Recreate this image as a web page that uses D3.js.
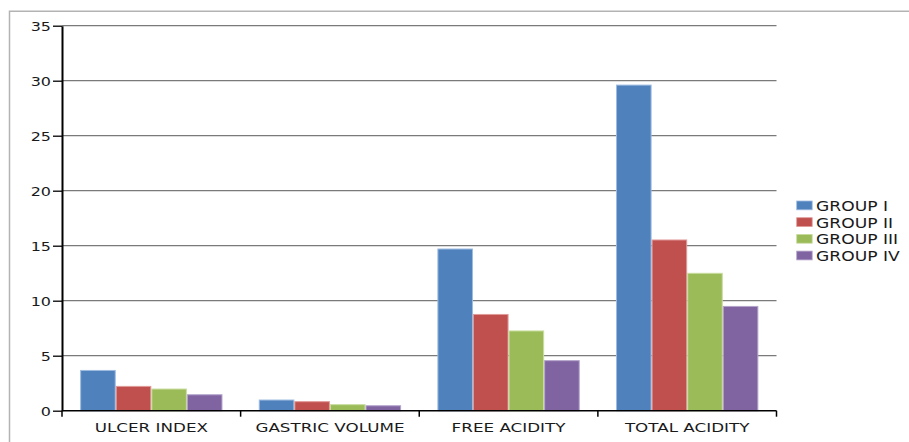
<!DOCTYPE html>
<html>
<head>
<meta charset="utf-8">
<script src="https://cdn.jsdelivr.net/npm/d3@7"></script>
<style>
  html, body { margin: 0; padding: 0; background: #fff; }
  svg { display: block; }
  text { font-family: "DejaVu Sans", sans-serif; fill: #1a1a1a; }
</style>
</head>
<body>
<svg id="chart" width="909" height="442"></svg>
<script>
// Parameters measured for each group of animals
const categories = ["ULCER INDEX", "GASTRIC VOLUME", "FREE ACIDITY", "TOTAL ACIDITY"];
const groups = ["GROUP I", "GROUP II", "GROUP III", "GROUP IV"];
const groupI   = [3.66, 0.97, 14.7, 29.6];
const groupII  = [2.21, 0.82, 8.75, 15.52];
const groupIII = [1.97, 0.55, 7.25, 12.49];
const groupIV  = [1.45, 0.45, 4.55, 9.48];
const yTicks = [0, 5, 10, 15, 20, 25, 30, 35];
const colors = ["#4F81BD", "#C0504D", "#9BBB59", "#8064A2"];
const edgeColors = ["#9DBBE0", "#E09A98", "#C8DD9E", "#B4A3CB"];

const seriesValues = [groupI, groupII, groupIII, groupIV];
const rows = categories.map((c, i) => ({
  category: c,
  values: groups.map((g, j) => ({ group: g, value: seriesValues[j][i], idx: j }))
}));

const svg = d3.select("#chart");
const plot = { left: 62, right: 776.5, top: 25.7, bottom: 410.7 };

// Outer chart frame
svg.append("path")
  .attr("d", `M9.5,450 V11.2 H920`)
  .attr("fill", "none")
  .attr("stroke", "#b3b3b3")
  .attr("stroke-width", 1.5);

const y = d3.scaleLinear().domain([0, 35]).range([plot.bottom, plot.top]);
const x0 = d3.scaleBand().domain(categories).range([plot.left, plot.right]).padding(0);
const x1 = d3.scaleBand().domain(groups).range([0, x0.bandwidth()])
  .paddingInner(0).paddingOuter(0.51);

// Horizontal gridlines
svg.append("g").selectAll("line")
  .data(yTicks.filter(t => t > 0))
  .join("line")
  .attr("x1", plot.left).attr("x2", plot.right)
  .attr("y1", d => y(d)).attr("y2", d => y(d))
  .attr("stroke", "#7a7a7a").attr("stroke-width", 1.3);

// Bars
const barG = svg.append("g");
rows.forEach(r => {
  barG.append("g")
    .attr("transform", `translate(${x0(r.category)},0)`)
    .selectAll("rect")
    .data(r.values)
    .join("rect")
    .attr("x", d => x1(d.group) + 0.5)
    .attr("width", x1.bandwidth() - 1)
    .attr("y", d => y(d.value))
    .attr("height", d => y(0) - y(d.value))
    .attr("fill", d => colors[d.idx])
    .attr("stroke", d => edgeColors[d.idx])
    .attr("stroke-width", 1);
});

// Y axis
const yAxis = svg.append("g")
  .attr("transform", `translate(${plot.left},0)`)
  .call(d3.axisLeft(y).tickValues(yTicks).tickSize(9).tickSizeOuter(0));
yAxis.select(".domain").attr("stroke", "#000").attr("stroke-width", 2);
yAxis.selectAll(".tick line").attr("stroke", "#000").attr("stroke-width", 1.3);
yAxis.selectAll(".tick text")
  .attr("x", 0).attr("dy", "0.36em")
  .attr("transform", "translate(-11,0) scale(1.3,1)")
  .style("font-size", "12.3px")
  .style("font-family", "'DejaVu Sans', sans-serif")
  .attr("fill", "#1a1a1a");

// X axis: ticks on band boundaries, labels centred in each band
const xAxis = svg.append("g").attr("transform", `translate(0,${plot.bottom})`);
xAxis.append("line")
  .attr("x1", plot.left).attr("x2", plot.right)
  .attr("stroke", "#000").attr("stroke-width", 1.6);
const bounds = categories.map(c => x0(c)).concat([plot.right]);
xAxis.selectAll(".bound")
  .data(bounds)
  .join("line")
  .attr("class", "bound")
  .attr("x1", d => d).attr("x2", d => d)
  .attr("y1", 0).attr("y2", 6)
  .attr("stroke", "#000").attr("stroke-width", 1.5);
xAxis.selectAll(".cat")
  .data(categories)
  .join("text")
  .attr("class", "cat")
  .attr("text-anchor", "middle")
  .attr("transform", d => `translate(${x0(d) + x0.bandwidth() / 2},21.5) scale(1.47,1)`)
  .style("font-size", "11.4px")
  .text(d => d);

// Legend
const legend = svg.append("g").attr("transform", "translate(796.7,201)");
const item = legend.selectAll("g")
  .data(groups)
  .join("g")
  .attr("transform", (d, i) => `translate(0,${i * 16.7})`);
item.append("rect")
  .attr("width", 15.5).attr("height", 8.8)
  .attr("fill", (d, i) => colors[i])
  .attr("stroke", (d, i) => edgeColors[i]).attr("stroke-width", 0.8);
item.append("text")
  .attr("transform", "translate(19.3,10) scale(1.26,1)")
  .style("font-size", "13.6px")
  .text(d => d);
</script>
</body>
</html>
